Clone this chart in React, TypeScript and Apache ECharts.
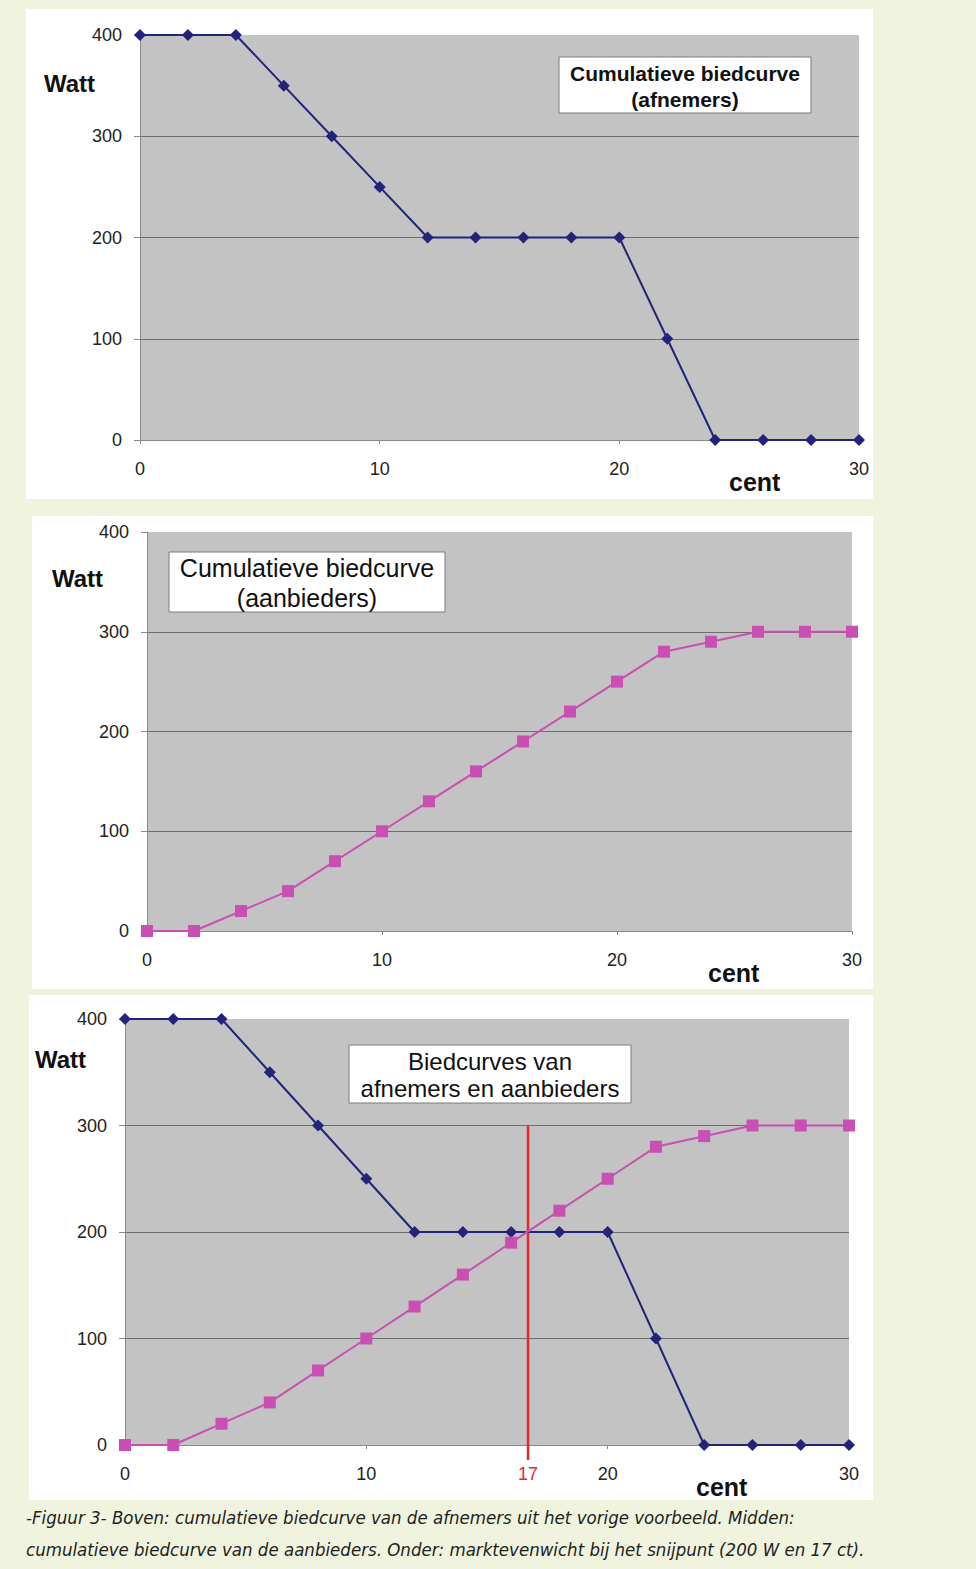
import React, { useEffect, useRef } from "react";
import * as echarts from "echarts";

const prices = [0, 2, 4, 6, 8, 10, 12, 14, 16, 18, 20, 22, 24, 26, 28, 30];
const demandWatt = [400, 400, 400, 350, 300, 250, 200, 200, 200, 200, 200, 100, 0, 0, 0, 0];
const supplyWatt = [0, 0, 20, 40, 70, 100, 130, 160, 190, 220, 250, 280, 290, 300, 300, 300];
const equilibriumLineX = 16.7;
const equilibriumLabel = "17";
const equilibriumLineWatt = [300, -14];
const xTicks = [0, 10, 20, 30];
const yTicks = [0, 100, 200, 300, 400];

const NAVY = "#22237a";
const PINK = "#c94fb4";
const RED = "#e8262c";
const PLOT_BG = "#c3c3c3";
const PAGE_BG = "#f0f4de";

const FONT = "Liberation Sans, Arial, sans-serif";

export default function App() {
  const ref = useRef<HTMLDivElement>(null);
  useEffect(() => {
    const chart = echarts.init(ref.current!, undefined, { renderer: "svg" });
    const pts = (ys: number[]) => prices.map((p, i) => [p, ys[i]]);

    const grids = [
      { left: 140, top: 35, width: 719, height: 405 },
      { left: 147, top: 532, width: 705, height: 399 },
      { left: 125, top: 1019, width: 724, height: 426 },
    ];

    const xAxisBase = (gi: number) => ({
      type: "value",
      gridIndex: gi,
      position: "bottom",
      min: xTicks[0],
      max: xTicks[xTicks.length - 1],
      interval: 10,
      axisLine: { show: true, lineStyle: { color: "#8a8a8a", width: 1 } },
      axisTick: { show: true, length: 4, lineStyle: { color: "#8a8a8a" } },
      splitLine: { show: false },
      axisLabel: { margin: 20, fontSize: 18, color: "#222", fontFamily: FONT },
    });
    const yAxisBase = (gi: number) => ({
      type: "value",
      gridIndex: gi,
      min: yTicks[0],
      max: yTicks[yTicks.length - 1],
      interval: 100,
      axisLine: { show: true, lineStyle: { color: "#8a8a8a", width: 1 } },
      axisTick: { show: true, length: 6, lineStyle: { color: "#8a8a8a" } },
      splitLine: {
        show: true,
        showMaxLine: false,
        lineStyle: { color: "#6e6e6e", width: 1 },
      },
      axisLabel: { margin: 18, fontSize: 18, color: "#222", fontFamily: FONT },
    });

    const demandSeries = (ai: number) => ({
      type: "line",
      xAxisIndex: ai,
      yAxisIndex: ai,
      data: pts(demandWatt),
      symbol: "diamond",
      symbolSize: 12,
      lineStyle: { color: NAVY, width: 2 },
      itemStyle: { color: NAVY },
      clip: false,
      z: 3,
    });
    const supplySeries = (ai: number) => ({
      type: "line",
      xAxisIndex: ai,
      yAxisIndex: ai,
      data: pts(supplyWatt),
      symbol: "rect",
      symbolSize: 12,
      lineStyle: { color: PINK, width: 2 },
      itemStyle: { color: PINK },
      clip: false,
      z: 4,
    });

    const panelRect = (x: number, y: number, w: number, h: number) => ({
      type: "rect",
      shape: { x, y, width: w, height: h },
      style: { fill: "#ffffff" },
      z: -10,
      silent: true,
    });
    const legendBox = (
      x: number,
      y: number,
      w: number,
      h: number,
      text: string,
      size: number,
      weight: string,
      lh: number
    ) => ({
      type: "group",
      z: 20,
      children: [
        {
          type: "rect",
          shape: { x, y, width: w, height: h },
          style: { fill: "#ffffff", stroke: "#7a7a7a", lineWidth: 1 },
          z: 20,
        },
        {
          type: "text",
          x: x + w / 2,
          y: y + h / 2 + 1,
          style: {
            text,
            fill: "#111",
            fontSize: size,
            fontWeight: weight,
            fontFamily: FONT,
            align: "center",
            verticalAlign: "middle",
            lineHeight: lh,
          },
          z: 21,
        },
      ],
    });
    const label = (x: number, y: number, text: string, size: number) => ({
      type: "text",
      x,
      y,
      style: {
        text,
        fill: "#111",
        fontSize: size,
        fontWeight: "bold",
        fontFamily: FONT,
        align: "left",
        verticalAlign: "middle",
      },
      z: 20,
    });

    const option: any = {
      animation: false,
      backgroundColor: PAGE_BG,
      grid: grids.map((g) => ({
        ...g,
        show: true,
        backgroundColor: PLOT_BG,
        borderWidth: 0,
        containLabel: false,
      })),
      xAxis: [
        xAxisBase(0),
        xAxisBase(1),
        xAxisBase(2),
        {
          type: "value",
          gridIndex: 2,
          position: "bottom",
          min: xTicks[0],
          max: xTicks[xTicks.length - 1],
          axisLine: { show: false },
          axisTick: { show: false },
          splitLine: { show: false },
          axisLabel: {
            margin: 20,
            fontSize: 18,
            color: RED,
            fontFamily: FONT,
            customValues: [equilibriumLineX],
            formatter: () => equilibriumLabel,
          },
        },
      ],
      yAxis: [yAxisBase(0), yAxisBase(1), yAxisBase(2)],
      series: [
        demandSeries(0),
        supplySeries(1),
        {
          type: "line",
          xAxisIndex: 2,
          yAxisIndex: 2,
          data: equilibriumLineWatt.map((w) => [equilibriumLineX, w]),
          symbol: "none",
          lineStyle: { color: RED, width: 2.5 },
          clip: false,
          z: 2,
        },
        demandSeries(2),
        supplySeries(2),
      ],
      graphic: [
        panelRect(26, 9, 847, 490),
        panelRect(32, 516, 841, 473),
        panelRect(29, 995, 844, 505),
        legendBox(559, 57, 252, 56, "Cumulatieve biedcurve\n(afnemers)", 21, "bold", 26),
        legendBox(169, 552, 276, 60, "Cumulatieve biedcurve\n(aanbieders)", 25, "normal", 30),
        legendBox(349, 1045, 282, 58, "Biedcurves van\nafnemers en aanbieders", 24, "normal", 27),
        label(44, 83, "Watt", 24),
        label(52, 578, "Watt", 24),
        label(35, 1059, "Watt", 24),
        label(729, 482, "cent", 25),
        label(708, 973, "cent", 25),
        label(696, 1487, "cent", 25),
        {
          type: "text",
          x: 26,
          y: 1501,
          style: {
            text:
              "-Figuur 3- Boven: cumulatieve biedcurve van de afnemers uit het vorige voorbeeld. Midden:\ncumulatieve biedcurve van de aanbieders. Onder: marktevenwicht bij het snijpunt (200 W en 17 ct).",
            fill: "#222222",
            fontSize: 18.5,
            fontStyle: "italic",
            fontFamily: "DejaVu Sans Condensed, Liberation Sans Narrow, sans-serif",
            lineHeight: 32,
            align: "left",
            verticalAlign: "top",
          },
          z: 20,
        },
      ],
    };
    chart.setOption(option);
    return () => chart.dispose();
  }, []);
  return (
    <div
      ref={ref}
      style={{ position: "fixed", left: 0, top: 0, width: 976, height: 1569 }}
    />
  );
}
